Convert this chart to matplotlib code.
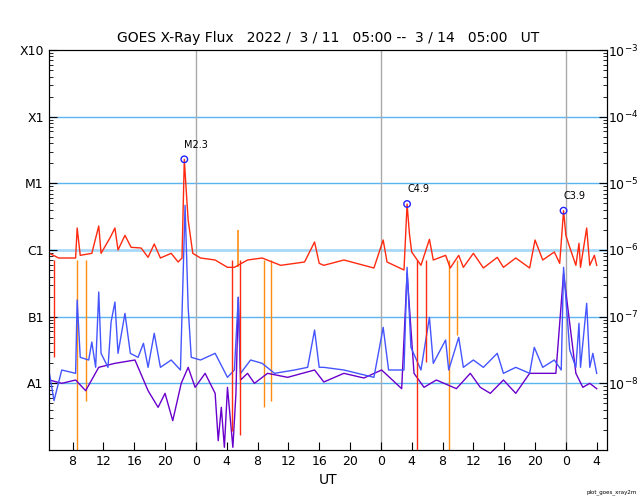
import matplotlib
matplotlib.use("Agg")
import numpy as np
from matplotlib import pyplot as plt
from matplotlib.ticker import LogLocator, NullFormatter

# hours since 2022-03-11 05:00 UT, log10 of flux (W/m^2)
long_t = [0, 1.2, 3.4, 3.6, 4.0, 5.5, 6.4, 6.7, 7.9, 8.5, 8.9, 9.8, 10.6, 11.9, 12.8,
          13.6, 14.4, 15.8, 16.7, 17.2, 17.5, 17.8, 18.0, 18.6, 19.6, 21.5, 23.1, 24.0,
          25.7, 27.6, 30.0, 33.1, 34.4, 35.0, 35.6, 38.2, 42.1, 43.3, 43.8, 46.0, 46.4,
          46.7, 47.0, 48.2, 49.3, 49.8, 51.4, 52.0, 53.1, 53.7, 55.0, 56.3, 58.1, 58.9,
          60.5, 62.3, 63.0, 64.0, 65.5, 66.2, 66.7, 67.0, 67.5, 68.3, 68.7, 68.9, 69.7,
          70.1, 70.7, 71.0]
long_log = [-6.05, -6.12, -6.12, -5.67, -6.08, -6.05, -5.64, -6.05, -5.81, -5.67, -6.00,
            -5.78, -5.96, -5.97, -6.11, -5.91, -6.12, -6.05, -6.18, -6.12, -4.64, -5.20,
            -5.55, -6.05, -6.12, -6.15, -6.26, -6.26, -6.15, -6.12, -6.23, -6.18, -5.88,
            -6.20, -6.23, -6.15, -6.27, -5.85, -6.18, -6.30, -5.31, -5.75, -6.03, -6.23,
            -5.84, -6.15, -6.08, -6.27, -6.08, -6.26, -6.05, -6.27, -6.11, -6.26, -6.12,
            -6.27, -5.85, -6.15, -6.03, -6.20, -5.41, -5.78, -5.96, -6.23, -5.90, -6.26,
            -5.67, -6.23, -6.08, -6.23]

short_t = [0, 0.6, 1.6, 3.4, 3.6, 4.0, 5.1, 5.5, 6.0, 6.4, 6.7, 7.6, 8.0, 8.5, 8.9, 9.8,
           10.5, 11.5, 12.2, 12.8, 13.6, 14.4, 15.8, 17.0, 17.6, 18.0, 18.4, 19.6, 21.5,
           23.1, 24.0, 24.5, 24.8, 26.1, 27.6, 29.2, 31.8, 33.5, 34.4, 35.0, 35.6, 38.2,
           42.1, 43.3, 44.0, 46.0, 46.4, 46.9, 48.2, 49.3, 49.8, 51.4, 51.8, 53.1, 53.7,
           55.0, 56.3, 58.1, 58.9, 60.5, 62.3, 62.9, 64.0, 65.5, 66.4, 66.7, 67.5, 68.3,
           68.7, 68.9, 69.7, 70.1, 70.5, 71.0]
short_log = [-7.85, -8.26, -7.80, -7.85, -6.75, -7.61, -7.65, -7.38, -7.76, -6.63, -7.55,
             -7.76, -7.08, -6.78, -7.55, -6.95, -7.55, -7.61, -7.40, -7.76, -7.25, -7.76,
             -7.65, -7.80, -5.33, -6.86, -7.61, -7.65, -7.55, -7.91, -7.80, -6.71, -7.85,
             -7.65, -7.70, -7.85, -7.80, -7.76, -7.20, -7.76, -7.76, -7.80, -7.91, -7.16,
             -7.80, -7.80, -6.26, -7.46, -7.80, -7.01, -7.70, -7.35, -7.80, -7.31, -7.76,
             -7.65, -7.76, -7.55, -7.85, -7.76, -7.85, -7.46, -7.76, -7.65, -7.80, -6.26,
             -7.50, -7.76, -7.10, -7.76, -6.80, -7.76, -7.55, -7.85]

short2_t = [0, 1.6, 3.4, 4.7, 6.4, 8.5, 11.1, 12.8, 14.1, 15.0, 16.0, 17.1, 18.0, 18.9,
            20.2, 21.5, 21.9, 22.3, 22.7, 23.1, 23.8, 24.2, 24.5, 24.8, 25.7, 26.6, 28.3,
            30.9, 34.4, 35.6, 38.2, 40.8, 43.1, 45.7, 46.4, 47.3, 48.6, 50.2, 52.8, 54.6,
            55.9, 57.2, 58.9, 60.5, 62.3, 65.7, 66.7, 68.3, 69.2, 70.1, 71.0]
short2_log = [-7.95, -8.00, -7.95, -8.11, -7.76, -7.70, -7.65, -8.11, -8.36, -8.15, -8.56,
              -8.00, -7.76, -8.06, -7.85, -8.15, -8.86, -8.36, -8.96, -8.06, -8.96, -8.15,
              -6.71, -7.95, -7.85, -8.00, -7.85, -7.91, -7.80, -7.98, -7.85, -7.92, -7.80,
              -8.08, -6.35, -7.85, -8.06, -7.95, -8.08, -7.85, -8.06, -8.15, -7.95, -8.15,
              -7.85, -7.85, -6.35, -7.85, -8.06, -8.00, -8.08]

# data dropouts (time, low log flux)
long_drop_t = [0.6, 23.7, 24.7, 47.7, 48.8]
long_drop_log = [-7.61, -8.71, -8.78, -9.0, -7.68]
long2_drop_t = [3.6, 4.7, 27.8, 28.8, 51.8, 52.9]
long2_drop_log = [-9.0, -8.26, -8.36, -8.26, -9.0, -7.28]
long2_spike_t = 24.5
long2_spike_log = -5.70

flare_t = [17.5, 46.4, 66.7]
flare_log = [-4.64, -5.31, -5.41]
flare_names = ["M2.3", "C4.9", "C3.9"]

RED = "#ff2a10"
BLUE = "#4455ff"
PURPLE = "#6a00cc"
ORANGE = "#ff8c10"

fig = plt.figure(figsize=(6.4, 5.0), dpi=100)
ax = fig.add_axes([0.076, 0.1, 0.872, 0.8])

for level in range(-8, -3):
    lw = 2.0 if level == -6 else 1.0
    color = "#a8d8f8" if level == -6 else "#5ab4f0"
    ax.axhline(10.0**level, color=color, lw=lw, zorder=1)
for midnight in (19, 43, 67):
    ax.axvline(midnight, color="#aaaaaa", lw=1.0, zorder=1)

ax.vlines(long2_drop_t, 10 ** -6.15, 10.0 ** np.array(long2_drop_log), color=ORANGE, lw=1, zorder=2)
ax.vlines([long2_spike_t], 10 ** -6.25, 10 ** long2_spike_log, color=ORANGE, lw=1.2, zorder=2)
ax.plot(short2_t, 10.0 ** np.array(short2_log), color=PURPLE, lw=1, zorder=2)
ax.plot(short_t, 10.0 ** np.array(short_log), color=BLUE, lw=1, zorder=3)
ax.vlines(long_drop_t, 10 ** -6.15, 10.0 ** np.array(long_drop_log), color=RED, lw=1, zorder=3)
ax.plot(long_t, 10.0 ** np.array(long_log), color=RED, lw=1, zorder=4)

flux = 10.0 ** np.array(flare_log)
ax.scatter(flare_t, flux, s=22, facecolors="none", edgecolors="#2222ff", lw=1, zorder=5)
for t, f, name in zip(flare_t, flux, flare_names):
    ax.annotate(name, (t, f), xytext=(0, 7), textcoords="offset points",
                fontsize=7, ha="left", va="bottom")

ax.set_yscale("log")
ax.set_ylim(1e-9, 1e-3)
ax.set_xlim(-0.1, 72.3)
ax.set_yticks([1e-3, 1e-4, 1e-5, 1e-6, 1e-7, 1e-8],
              ["X10", "X1", "M1", "C1", "B1", "A1"])
ax.yaxis.set_minor_locator(LogLocator(base=10, subs=np.arange(2, 10)))
ax.yaxis.set_minor_formatter(NullFormatter())
ax.tick_params(axis="y", which="both", direction="in", labelsize=9)
ax.tick_params(axis="y", which="major", length=6)
ax.tick_params(axis="y", which="minor", length=3)

hour_ticks = np.arange(3, 72, 4)
ax.set_xticks(hour_ticks, [str((h + 5) % 24) for h in hour_ticks])
ax.tick_params(axis="x", direction="in", length=6, labelsize=9)
ax.set_xlabel("UT", fontsize=10)

right = ax.twinx()
right.set_yscale("log")
right.set_ylim(1e-9, 1e-3)
right.set_yticks([1e-3, 1e-4, 1e-5, 1e-6, 1e-7, 1e-8],
                 [r"$10^{-3}$", r"$10^{-4}$", r"$10^{-5}$", r"$10^{-6}$", r"$10^{-7}$", r"$10^{-8}$"])
right.yaxis.set_minor_locator(LogLocator(base=10, subs=np.arange(2, 10)))
right.yaxis.set_minor_formatter(NullFormatter())
right.tick_params(axis="y", which="both", direction="in", labelsize=9, pad=1)
right.tick_params(axis="y", which="major", length=6)
right.tick_params(axis="y", which="minor", length=3)

ax.set_title("GOES X-Ray Flux   2022 /  3 / 11   05:00 --  3 / 14   05:00   UT", fontsize=10)
fig.text(0.995, 0.01, "plot_goes_xray2m", fontsize=4, ha="right", va="bottom")
fig.savefig("out.png", dpi=100)
